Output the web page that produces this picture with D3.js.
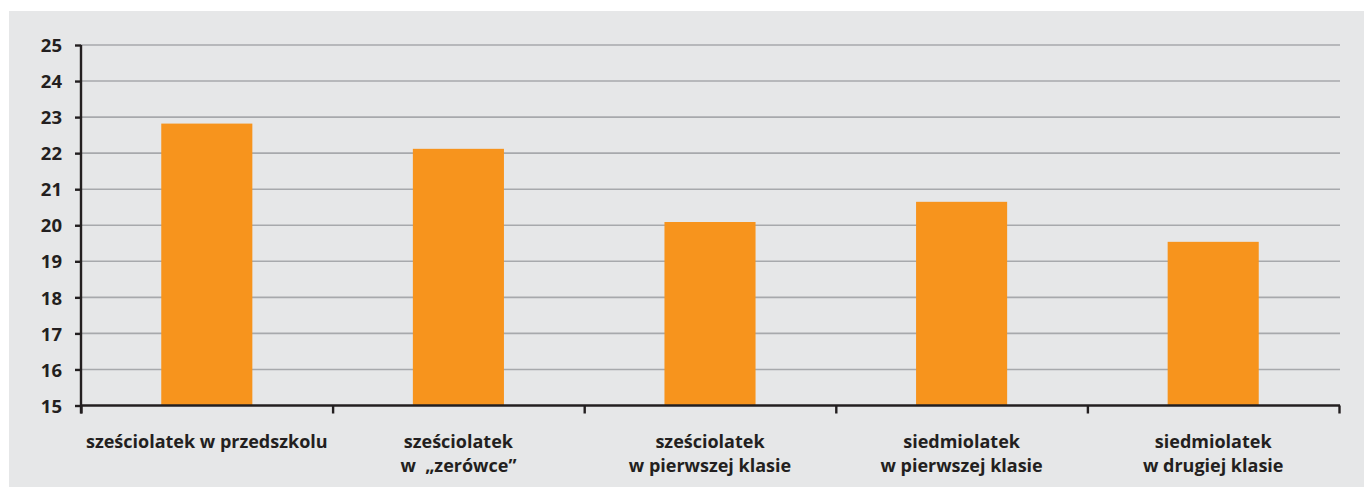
<!DOCTYPE html>
<html>
<head>
<meta charset="utf-8">
<script src="https://cdn.jsdelivr.net/npm/d3@7"></script>
<style>
  html, body { margin: 0; padding: 0; background: #ffffff; }
  svg { display: block; }
  text { font-family: "Open Sans", "DejaVu Sans", sans-serif; font-weight: 700; fill: #231f20; }
</style>
</head>
<body>
<svg id="chart" width="1364" height="488"></svg>
<script>
const categories = [
  ["sześciolatek w przedszkolu"],
  ["sześciolatek", "w  „zerówce”"],
  ["sześciolatek", "w pierwszej klasie"],
  ["siedmiolatek", "w pierwszej klasie"],
  ["siedmiolatek", "w drugiej klasie"]
];
const values = [22.82, 22.12, 20.09, 20.65, 19.54];
const yTicks = [15, 16, 17, 18, 19, 20, 21, 22, 23, 24, 25];

const svg = d3.select("#chart");
const W = 1364, H = 488;
const m = { left: 81, right: 1340, top: 45, bottom: 405.5 };

svg.append("rect").attr("x", 9).attr("y", 11).attr("width", W - 9).attr("height", 476).attr("fill", "#e6e7e8");

const x = d3.scaleBand().domain(d3.range(categories.length)).range([m.left, m.right - 1]).padding(0);
const xb = d3.scaleLinear().domain([0, categories.length]).range([m.left, m.right - 1]);
const y = d3.scaleLinear().domain([15, 25]).range([m.bottom, m.top]);

// gridlines
svg.append("g").selectAll("line").data(yTicks.filter(d => d > 15)).join("line")
  .attr("x1", m.left).attr("x2", m.right)
  .attr("y1", d => y(d)).attr("y2", d => y(d))
  .attr("stroke", "#a7a9ac").attr("stroke-width", 1.6);

// bars
const bw = x.bandwidth() * 0.362;
svg.append("g").selectAll("rect").data(values).join("rect")
  .attr("x", (d, i) => x(i) + x.bandwidth() / 2 - bw / 2)
  .attr("width", bw)
  .attr("y", d => y(d))
  .attr("height", d => y(15) - y(d))
  .attr("fill", "#f7941d");

// y axis
const yAxis = svg.append("g").attr("transform", `translate(${m.left},0)`)
  .call(d3.axisLeft(y).tickValues(yTicks).tickSize(6).tickPadding(13).tickFormat(d3.format("d")));
yAxis.select(".domain").attr("stroke", "#231f20").attr("stroke-width", 2.4).attr("d", `M0,${m.top}V${m.bottom + 8}`);
yAxis.selectAll(".tick line").attr("stroke", "#231f20").attr("stroke-width", 2.4);
yAxis.selectAll(".tick text").attr("font-size", 18.5).attr("dy", "0.36em").style("font-family", null);

// x axis (boundary ticks)
const xAxis = svg.append("g").attr("transform", `translate(0,${m.bottom})`)
  .call(d3.axisBottom(xb).tickValues(d3.range(categories.length + 1)).tickSize(8).tickFormat(""));
xAxis.select(".domain").attr("stroke", "#231f20").attr("stroke-width", 2.4).attr("d", `M${m.left},0H${m.right}`);
xAxis.selectAll(".tick line").attr("stroke", "#231f20").attr("stroke-width", 2.4);

// category labels
const lab = svg.append("g").selectAll("text").data(categories).join("text")
  .attr("text-anchor", "middle")
  .attr("font-size", 18)
  .style("white-space", "pre")
  .attr("x", (d, i) => x(i) + x.bandwidth() / 2)
  .attr("y", 448);
lab.selectAll("tspan").data(d => d).join("tspan")
  .attr("x", function () { return d3.select(this.parentNode).attr("x"); })
  .attr("dy", (d, j) => j === 0 ? 0 : 23.5)
  .text(d => d);
</script>
</body>
</html>
